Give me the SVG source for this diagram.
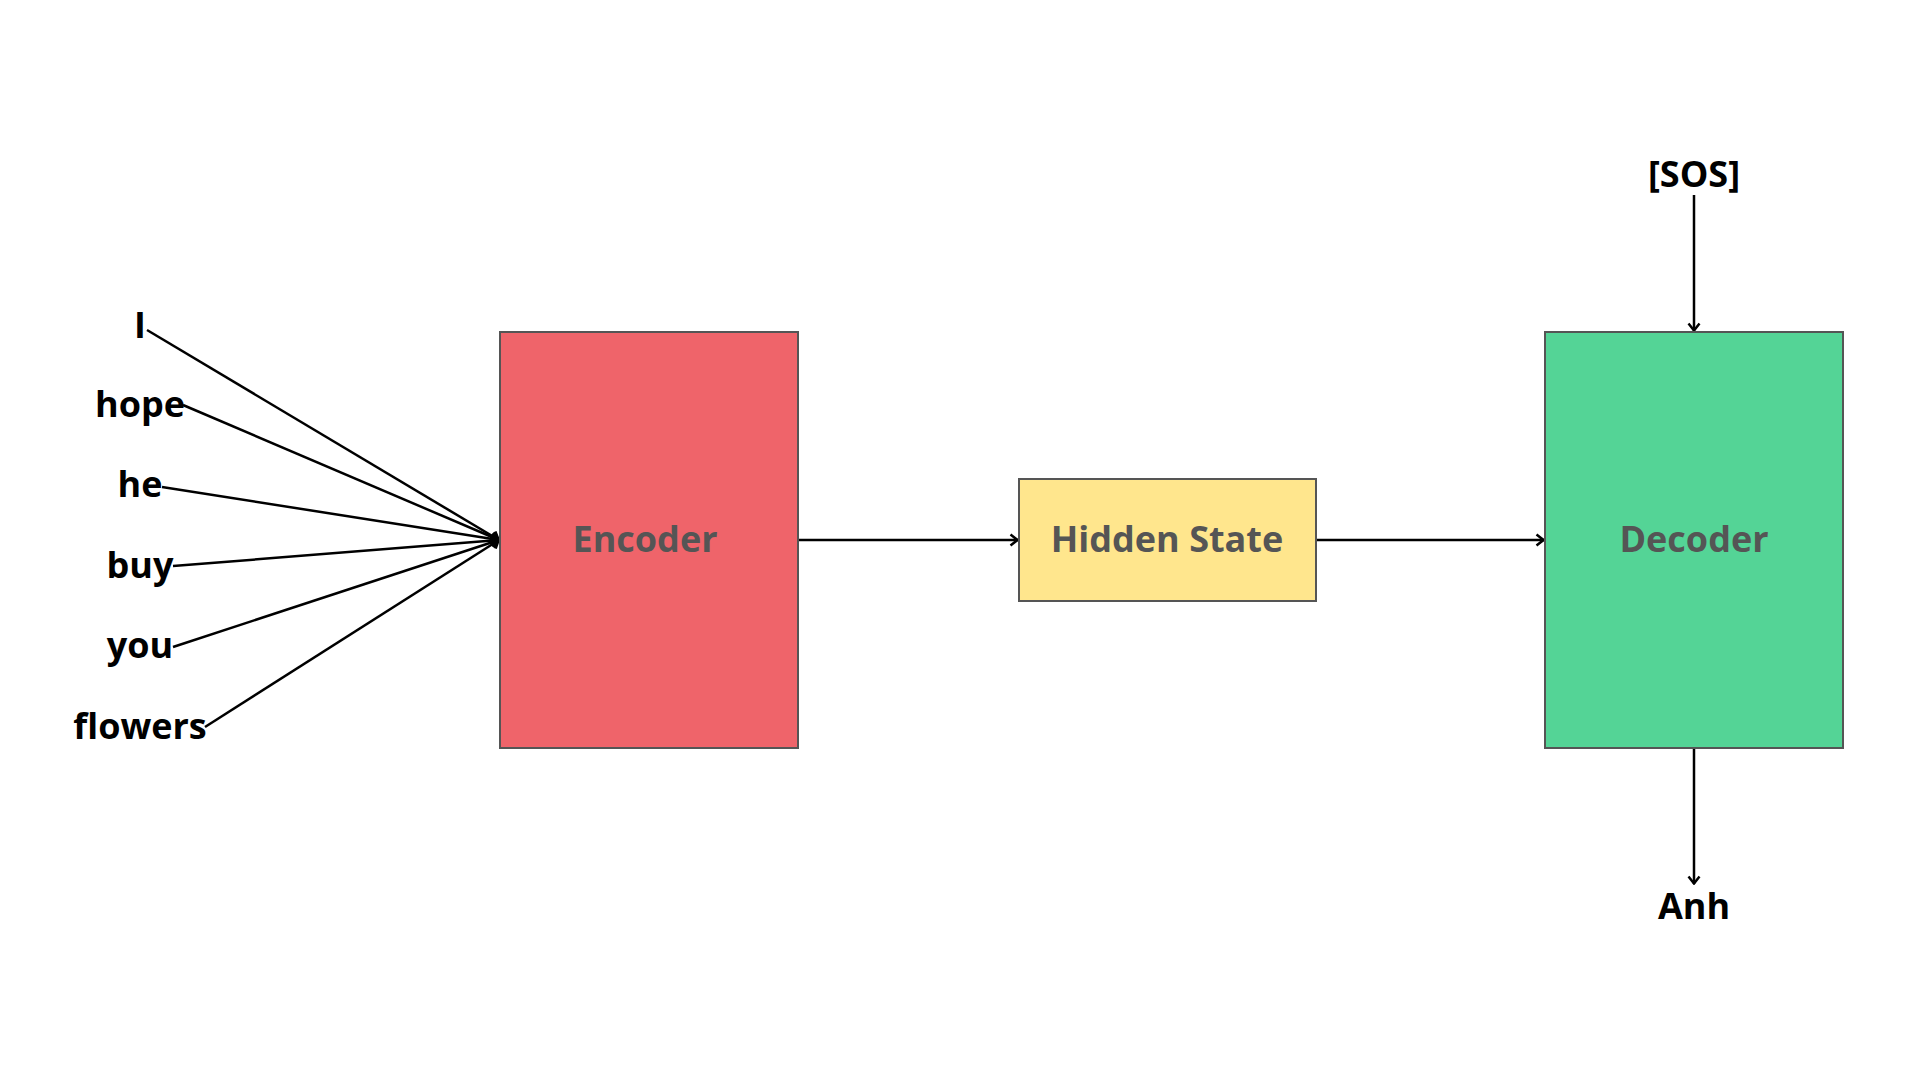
<svg xmlns="http://www.w3.org/2000/svg" width="1920" height="1080" viewBox="0 0 1920 1080">
  <style>
    .box { stroke: #555555; stroke-width: 2; }
    .nodeText { font-family: "Open Sans", "Noto Sans", sans-serif; font-weight: 700; font-size: 36px; fill: #555555; text-anchor: middle; }
    .word { font-family: "Open Sans", "Noto Sans", sans-serif; font-weight: 700; font-size: 36px; fill: #000000; text-anchor: middle; }
    .edge { stroke: #000000; stroke-width: 2.5; fill: none; marker-end: url(#arrow); }
  </style>
  <defs>
    <marker id="arrow" markerUnits="userSpaceOnUse" viewBox="0 0 10 14" refX="9" refY="7" markerWidth="10" markerHeight="14" orient="auto">
      <path d="M1.5,1.5 L8.5,7 L1.5,12.5" fill="none" stroke="#000000" stroke-width="2.5"/>
    </marker>
  </defs>
  <rect width="1920" height="1080" fill="#ffffff"/>

  <g id="connectors">
    <line class="edge" x1="147" y1="330" x2="499" y2="540"/>
    <line class="edge" x1="183" y1="405" x2="499" y2="540"/>
    <line class="edge" x1="162" y1="487" x2="499" y2="540"/>
    <line class="edge" x1="173" y1="566" x2="499" y2="540"/>
    <line class="edge" x1="173" y1="647" x2="499" y2="540"/>
    <line class="edge" x1="205" y1="727" x2="499" y2="540"/>
    <line class="edge" x1="799" y1="540" x2="1018" y2="540"/>
    <line class="edge" x1="1317" y1="540" x2="1544" y2="540"/>
    <line class="edge" x1="1694" y1="195" x2="1694" y2="331"/>
    <line class="edge" x1="1694" y1="749" x2="1694" y2="884"/>
  </g>

  <g id="word-I"><text class="word" x="140" y="338">I</text></g>
  <g id="word-hope"><text class="word" x="140" y="417">hope</text></g>
  <g id="word-he"><text class="word" x="140" y="497">he</text></g>
  <g id="word-buy"><text class="word" x="140" y="578">buy</text></g>
  <g id="word-you"><text class="word" x="140" y="658">you</text></g>
  <g id="word-flowers"><text class="word" x="140" y="739">flowers</text></g>

  <g id="encoder">
    <rect class="box" x="500" y="332" width="298" height="416" fill="#ef646a"/>
    <text class="nodeText" x="645" y="552">Encoder</text>
  </g>

  <g id="hidden-state">
    <rect class="box" x="1019" y="479" width="297" height="122" fill="#ffe68d"/>
    <text class="nodeText" x="1167" y="552">Hidden State</text>
  </g>

  <g id="decoder">
    <rect class="box" x="1545" y="332" width="298" height="416" fill="#54d496"/>
    <text class="nodeText" x="1694" y="552">Decoder</text>
  </g>

  <g id="sos"><text class="word" x="1694" y="187">[SOS]</text></g>
  <g id="anh"><text class="word" x="1694" y="919">Anh</text></g>
</svg>
